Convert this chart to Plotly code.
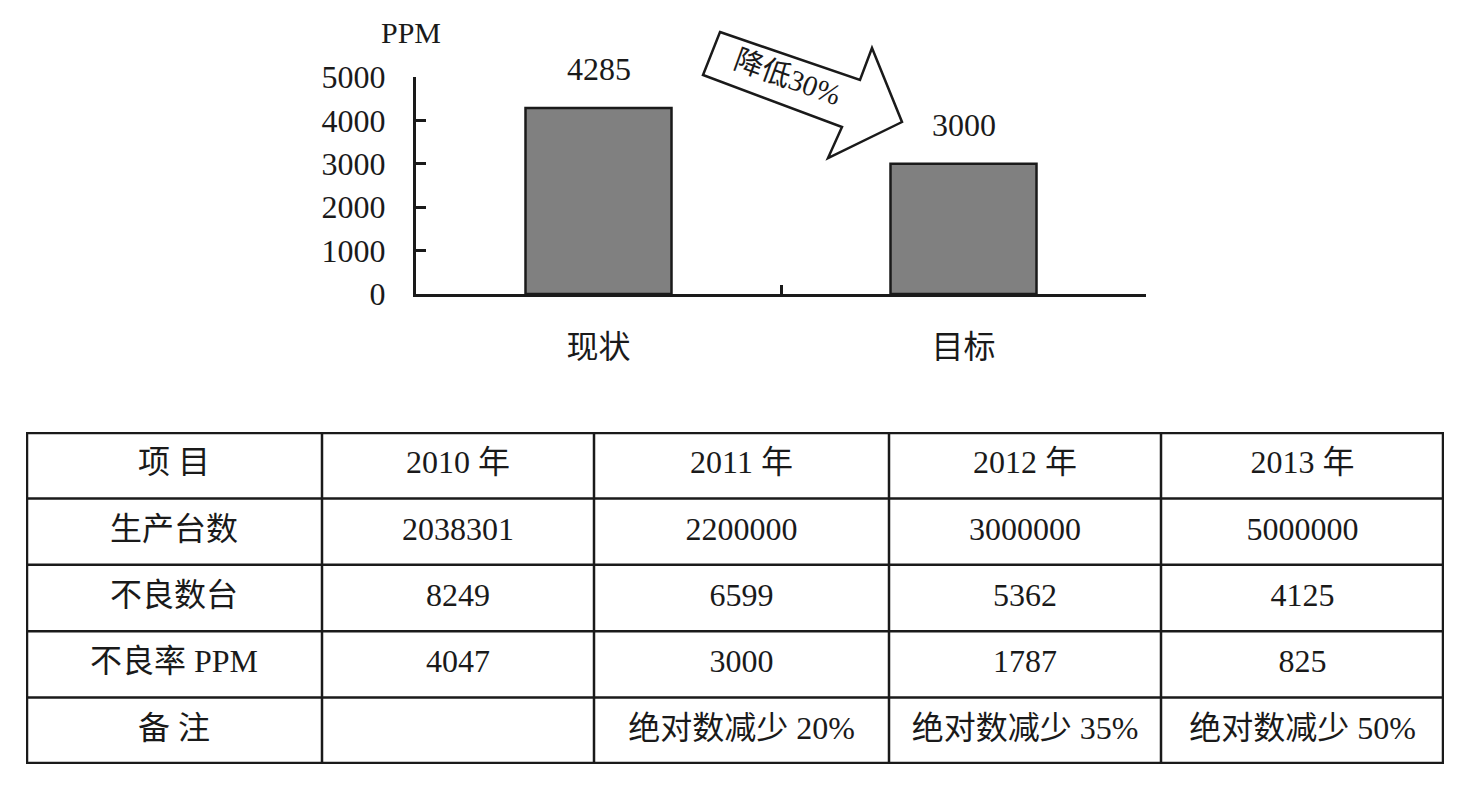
import plotly.graph_objects as go

# ---------------- data ----------------
bar_categories = ["现状", "目标"]
bar_values = [4285, 3000]
y_ticks = [0, 1000, 2000, 3000, 4000, 5000]
y_unit = "PPM"
arrow_label = "降低30%"

table_header = ["项 目", "2010 年", "2011 年", "2012 年", "2013 年"]
row_labels = ["生产台数", "不良数台", "不良率 PPM", "备 注"]
row_production = ["2038301", "2200000", "3000000", "5000000"]
row_defects = ["8249", "6599", "5362", "4125"]
row_ppm = ["4047", "3000", "1787", "825"]
row_notes = ["", "绝对数减少 20%", "绝对数减少 35%", "绝对数减少 50%"]

# ---------------- layout constants ----------------
PAGE_OFFSET = 8                      # default <body> margin of the html page
W, H = 1469 - 2 * PAGE_OFFSET, 788 - 2 * PAGE_OFFSET
FONT = "Liberation Serif, Times New Roman, Noto Sans CJK SC, serif"
INK = "#1a1a1a"
FS = 32
col_widths = [296, 272, 295, 272, 283]
TABLE_LEFT, TABLE_TOP, TABLE_BOTTOM = 26, 432, 764


def px(x):
    return (x - PAGE_OFFSET) / W


def py(y):
    return 1 - (y - PAGE_OFFSET) / H


fig = go.Figure()

# ---------------- bar chart ----------------
fig.add_trace(go.Bar(
    x=bar_categories, y=bar_values,
    marker=dict(color="#808080", line=dict(color=INK, width=2.5)),
    width=0.4, showlegend=False, hoverinfo="skip",
    xaxis="x", yaxis="y",
))
for c, v in zip(bar_categories, bar_values):
    fig.add_annotation(x=c, y=v, xref="x", yref="y", text=str(v),
                       showarrow=False, yanchor="bottom", yshift=19,
                       font=dict(family=FONT, size=FS, color=INK))

fig.add_annotation(x=px(411), y=py(32), xref="paper", yref="paper", text=y_unit,
                   showarrow=False, xanchor="center", yanchor="middle",
                   font=dict(family=FONT, size=FS - 2, color=INK))

# arrow decoration (callout)
arrow_pts = [(720, 32), (860, 80), (872, 48), (902, 122), (828, 158), (842, 127), (703, 75)]
path = "M " + " L ".join(f"{px(x):.5f},{py(y):.5f}" for x, y in arrow_pts) + " Z"
fig.add_shape(type="path", path=path, xref="paper", yref="paper",
              line=dict(color=INK, width=2.5), fillcolor="white", layer="above")
fig.add_annotation(x=px(787), y=py(77), xref="paper", yref="paper", text=arrow_label,
                   textangle=20, showarrow=False, xanchor="center", yanchor="middle",
                   font=dict(family=FONT, size=29, color=INK))

# ---------------- table ----------------
edges = [0]
for w in col_widths:
    edges.append(edges[-1] + w)
centers = [(edges[i] + edges[i + 1]) / 2 for i in range(len(col_widths))]

rows = [table_header,
        [row_labels[0]] + row_production,
        [row_labels[1]] + row_defects,
        [row_labels[2]] + row_ppm,
        [row_labels[3]] + row_notes]
n_rows = len(rows)

tx, ty, tt = [], [], []
for r, row in enumerate(rows):
    for c, val in enumerate(row):
        if val:
            tx.append(centers[c])
            ty.append(r + 0.5)
            tt.append(val)
fig.add_trace(go.Scatter(
    x=tx, y=ty, text=tt, mode="text", textposition="middle center",
    textfont=dict(family=FONT, size=FS, color=INK),
    xaxis="x2", yaxis="y2", showlegend=False, hoverinfo="skip",
))

for e in edges[1:-1]:
    fig.add_shape(type="line", x0=e, x1=e, y0=0, y1=n_rows, xref="x2", yref="y2",
                  line=dict(color=INK, width=2.5))
for r in range(1, n_rows):
    fig.add_shape(type="line", x0=0, x1=edges[-1], y0=r, y1=r, xref="x2", yref="y2",
                  line=dict(color=INK, width=2.5))
fig.add_shape(type="rect", x0=0, x1=edges[-1], y0=0, y1=n_rows, xref="x2", yref="y2",
              line=dict(color=INK, width=4.5))

# ---------------- layout ----------------
fig.update_layout(
    template="none",
    width=W, height=H, autosize=False,
    margin=dict(l=0, r=0, t=0, b=0, pad=0),
    paper_bgcolor="white", plot_bgcolor="white",
    showlegend=False,
    bargap=0.6,
    font=dict(family=FONT, size=FS, color=INK),
    xaxis=dict(
        domain=[px(416), px(1146)], anchor="y", automargin=False,
        type="category", range=[-0.5, 1.5],
        showline=True, linecolor=INK, linewidth=3,
        ticks="inside", tickson="boundaries", ticklen=9, tickwidth=3, tickcolor=INK,
        showgrid=False, zeroline=False, ticklabelstandoff=23,
        tickfont=dict(family=FONT, size=FS, color=INK),
    ),
    yaxis=dict(
        domain=[py(294), py(77)], anchor="x", automargin=False,
        range=[0, 5000], tickvals=y_ticks,
        showline=True, linecolor=INK, linewidth=3,
        ticks="inside", ticklen=10, tickwidth=3, tickcolor=INK,
        showgrid=False, zeroline=False, ticklabelstandoff=21,
        tickfont=dict(family=FONT, size=FS, color=INK),
    ),
    xaxis2=dict(domain=[px(TABLE_LEFT), px(TABLE_LEFT + sum(col_widths))], anchor="y2",
                range=[0, edges[-1]], visible=False, fixedrange=True, automargin=False),
    yaxis2=dict(domain=[py(TABLE_BOTTOM), py(TABLE_TOP)], anchor="x2",
                range=[n_rows, 0], visible=False, fixedrange=True, automargin=False),
)

fig.write_html("out.html")
